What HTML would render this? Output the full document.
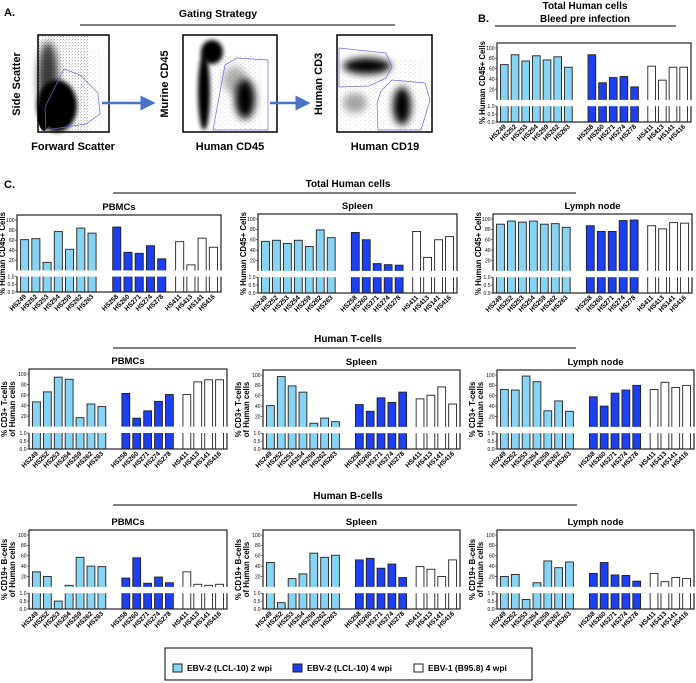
<!DOCTYPE html>
<html><head><meta charset="utf-8">
<style>
html,body{margin:0;padding:0;background:#fff;}
svg{display:block;font-family:"Liberation Sans",Arial,sans-serif;}
</style></head>
<body>
<svg id="fig" width="696" height="683" viewBox="0 0 696 683" xmlns="http://www.w3.org/2000/svg">
<defs>
<filter id="blur2" x="-50%" y="-50%" width="200%" height="200%"><feGaussianBlur stdDeviation="4"/></filter>
<filter id="blur1" x="-50%" y="-50%" width="200%" height="200%"><feGaussianBlur stdDeviation="2"/></filter>
<pattern id="dots" width="3" height="3" patternUnits="userSpaceOnUse"><rect width="0.8" height="0.8" fill="#000"/><rect x="2" y="1.5" width="0.6" height="0.6" fill="#000"/></pattern>
<pattern id="dots2" width="5" height="4" patternUnits="userSpaceOnUse"><rect width="0.6" height="0.6" fill="#000"/><rect x="3" y="2" width="0.5" height="0.5" fill="#000"/></pattern>
<marker id="arr" markerWidth="6" markerHeight="6" refX="3" refY="3" orient="auto"><path d="M0,0 L6,3 L0,6 z" fill="#4a74c9"/></marker>
</defs>

<!-- Panel A -->
<g>
<text x="4" y="16" font-size="11" font-weight="bold">A.</text>
<text x="218" y="17" font-size="10.5" font-weight="bold" text-anchor="middle">Gating Strategy</text>
<line x1="80" y1="25" x2="395" y2="25" stroke="#000" stroke-width="1"/>

<g>
<rect x="38" y="35" width="71" height="97" fill="#fff"/>
<rect x="38" y="35" width="50" height="97" fill="url(#dots)" opacity="0.45"/>
<rect x="80" y="50" width="28" height="80" fill="url(#dots2)" opacity="0.35"/>
<ellipse cx="57" cy="106" rx="20" ry="26" fill="#000" filter="url(#blur1)"/>
<ellipse cx="48" cy="78" rx="10" ry="36" fill="#000" opacity="0.75" filter="url(#blur2)"/>
<ellipse cx="44" cy="115" rx="6" ry="16" fill="#000"/>
<polygon points="45,107 64,69 80,75 98,93 100,114 86,124 46,130" fill="none" stroke="#6b6bd6" stroke-width="0.7"/>
<rect x="38" y="35" width="71" height="97" fill="none" stroke="#000" stroke-width="1.5"/>
<text x="20" y="84" font-size="11" font-weight="bold" transform="rotate(-90 20 84)" text-anchor="middle">Side Scatter</text>
<text x="73" y="150" font-size="11" font-weight="bold" text-anchor="middle">Forward Scatter</text>
</g>
<line x1="102" y1="103" x2="148" y2="103" stroke="#4a74c9" stroke-width="2.5" marker-end="url(#arr)"/>

<g>
<rect x="183" y="35" width="94" height="97" fill="#fff"/>
<rect x="213" y="55" width="50" height="75" fill="url(#dots2)" opacity="0.4"/>
<ellipse cx="204" cy="92" rx="6" ry="38" fill="#000" filter="url(#blur1)"/>
<ellipse cx="212" cy="52" rx="11" ry="12" fill="#000" filter="url(#blur1)"/>
<ellipse cx="245" cy="99" rx="10" ry="20" fill="#000" filter="url(#blur2)"/>
<ellipse cx="235" cy="80" rx="12" ry="14" fill="#000" opacity="0.3" filter="url(#blur2)"/>
<polygon points="213,130 225,65 237,58 268,60 268,130" fill="none" stroke="#6b6bd6" stroke-width="0.7"/>
<rect x="183" y="35" width="94" height="97" fill="none" stroke="#000" stroke-width="1.5"/>
<text x="168" y="84" font-size="11" font-weight="bold" transform="rotate(-90 168 84)" text-anchor="middle">Murine CD45</text>
<text x="230" y="150" font-size="11" font-weight="bold" text-anchor="middle">Human CD45</text>
</g>
<line x1="270" y1="103" x2="303" y2="103" stroke="#4a74c9" stroke-width="2.5" marker-end="url(#arr)"/>

<g>
<rect x="337" y="35" width="95" height="97" fill="#fff"/>
<rect x="337" y="60" width="90" height="70" fill="url(#dots2)" opacity="0.35"/>
<ellipse cx="367" cy="66" rx="24" ry="8" fill="#000" filter="url(#blur2)"/>
<ellipse cx="402" cy="106" rx="9" ry="19" fill="#000" filter="url(#blur2)"/>
<ellipse cx="355" cy="103" rx="12" ry="10" fill="#000" opacity="0.35" filter="url(#blur2)"/>
<polygon points="339,48 386,53 392,67 386,78 369,86 339,87" fill="none" stroke="#6b6bd6" stroke-width="0.7"/>
<polygon points="381,91 392,80 425,83 430,100 421,130 378,130 377,103" fill="none" stroke="#6b6bd6" stroke-width="0.7"/>
<rect x="337" y="35" width="95" height="97" fill="none" stroke="#000" stroke-width="1.5"/>
<text x="322" y="84" font-size="11" font-weight="bold" transform="rotate(-90 322 84)" text-anchor="middle">Human CD3</text>
<text x="385" y="150" font-size="11" font-weight="bold" text-anchor="middle">Human CD19</text>
</g>
</g>

<!-- Panel B headings -->
<text x="478" y="22" font-size="11" font-weight="bold">B.</text>
<text x="585" y="9" font-size="10" font-weight="bold" text-anchor="middle">Total Human cells</text>
<text x="585" y="22" font-size="10" font-weight="bold" text-anchor="middle">Bleed pre infection</text>
<line x1="495" y1="26" x2="676" y2="26" stroke="#000"/>

<!-- Panel C headings -->
<text x="4" y="188" font-size="11" font-weight="bold">C.</text>
<text x="348" y="187" font-size="10" font-weight="bold" text-anchor="middle">Total Human cells</text>
<line x1="113" y1="193" x2="576" y2="193" stroke="#000"/>
<text x="348" y="342" font-size="10" font-weight="bold" text-anchor="middle">Human T-cells</text>
<line x1="113" y1="348" x2="576" y2="348" stroke="#000"/>
<text x="348" y="499" font-size="10" font-weight="bold" text-anchor="middle">Human B-cells</text>
<line x1="113" y1="505" x2="577" y2="505" stroke="#000"/>

<g id="charts"></g>

<!-- Legend -->
<g>
<rect x="165" y="648" width="367" height="32" fill="#fff" stroke="#000" stroke-width="1"/>
<g>
<rect x="173" y="664" width="9" height="8" fill="#86d3f4" stroke="#222" stroke-width="1"/>
<text x="187" y="671" font-size="8.5" font-weight="bold">EBV-2 (LCL-10) 2 wpi</text></g>
<g>
<rect x="293" y="664" width="9" height="8" fill="#1c3ff0" stroke="#222" stroke-width="1"/>
<text x="307" y="671" font-size="8.5" font-weight="bold">EBV-2 (LCL-10) 4 wpi</text></g>
<g>
<rect x="414" y="664" width="9" height="8" fill="#fff" stroke="#222" stroke-width="1"/>
<text x="428" y="671" font-size="8.5" font-weight="bold">EBV-1 (B95.8) 4 wpi</text></g>
</g>
</svg>

<script>
// ---- data ----
const catLight = ["HS249","HS252","HS253","HS254","HS259","HS262","HS263"];
const catBlue  = ["HS258","HS260","HS271","HS274","HS278"];
const catWhite = ["HS411","HS413","HS141","HS416"];
const topTicks = [100,80,60,40,20];
const bottomTicks = [1.0,0.5,0.0];

const bleedLight = [68,87,75,85,77,83,63];
const bleedBlue  = [87,33,43,45,25];
const bleedWhite = [65,38,63,63];

const pbmcTotalLight = [61,63,16,77,42,84,74];
const pbmcTotalBlue  = [86,36,34,49,23];
const pbmcTotalWhite = [57,11,64,46];
const spleenTotalLight = [57,59,53,59,47,79,64];
const spleenTotalBlue  = [74,60,14,12,11];
const spleenTotalWhite = [76,26,60,66];
const lymphTotalLight = [90,96,94,96,90,91,84];
const lymphTotalBlue  = [87,76,76,97,98];
const lymphTotalWhite = [87,81,93,92];

const pbmcTLight = [47,66,94,90,17,43,38];
const pbmcTBlue  = [63,16,30,48,61];
const pbmcTWhite = [61,85,89,89];
const spleenTLight = [41,97,79,67,7,17,10];
const spleenTBlue  = [43,30,56,47,67];
const spleenTWhite = [54,61,77,44];
const lymphTLight = [72,71,98,87,31,50,30];
const lymphTBlue  = [58,40,65,71,80];
const lymphTWhite = [72,86,76,80];

const pbmcBLight = [29,20,0.5,3,57,40,39];
const pbmcBBlue  = [17,56,7,19,8];
const pbmcBWhite = [29,5,3,5];
const spleenBLight = [47,0.4,16,25,65,57,61];
const spleenBBlue  = [52,55,36,44,18];
const spleenBWhite = [39,34,20,52];
const lymphBLight = [20,24,0.6,8,50,37,48];
const lymphBBlue  = [26,47,23,22,11];
const lymphBWhite = [26,10,18,16];

// ---- layout ----
const charts = [
 {name:"bleed-chart", x0:497,x1:691,top:43,bot:122,title:null,ylab:["% Human CD45+ Cells"],d:[bleedLight,bleedBlue,bleedWhite]},
 {name:"pbmc-total-chart", x0:17,x1:221,top:215,bot:292,title:"PBMCs",ylab:["% Human CD45+ Cells"],d:[pbmcTotalLight,pbmcTotalBlue,pbmcTotalWhite]},
 {name:"spleen-total-chart", x0:258,x1:457,top:214,bot:293,title:"Spleen",ylab:["% Human CD45+ Cells"],d:[spleenTotalLight,spleenTotalBlue,spleenTotalWhite]},
 {name:"lymph-total-chart", x0:493,x1:692,top:214,bot:293,title:"Lymph node",ylab:["% Human CD45+ Cells"],d:[lymphTotalLight,lymphTotalBlue,lymphTotalWhite]},
 {name:"pbmc-t-chart", x0:29,x1:227,top:369,bot:449,title:"PBMCs",ylab:["% CD3+ T-cells","of Human cells"],d:[pbmcTLight,pbmcTBlue,pbmcTWhite]},
 {name:"spleen-t-chart", x0:263,x1:460,top:370,bot:449,title:"Spleen",ylab:["% CD3+ T-cells","of Human cells"],d:[spleenTLight,spleenTBlue,spleenTWhite]},
 {name:"lymph-t-chart", x0:497,x1:694,top:370,bot:449,title:"Lymph node",ylab:["% CD3+ T-cells","of Human cells"],d:[lymphTLight,lymphTBlue,lymphTWhite]},
 {name:"pbmc-b-chart", x0:29,x1:227,top:530,bot:609,title:"PBMCs",ylab:["% CD19+ B-cells","of Human cells"],d:[pbmcBLight,pbmcBBlue,pbmcBWhite]},
 {name:"spleen-b-chart", x0:263,x1:460,top:530,bot:609,title:"Spleen",ylab:["% CD19+ B-cells","of Human cells"],d:[spleenBLight,spleenBBlue,spleenBWhite]},
 {name:"lymph-b-chart", x0:497,x1:694,top:530,bot:609,title:"Lymph node",ylab:["% CD19+ B-cells","of Human cells"],d:[lymphBLight,lymphBBlue,lymphBWhite]}
];
const fills = ["#86d3f4","#1c3ff0","#ffffff"];
const groupStart = [0, 8.2, 13.8];
const cats = [catLight, catBlue, catWhite];

const NS = "http://www.w3.org/2000/svg";
const root = document.getElementById("charts");
function mk(tag, attrs, parent){
  const e = document.createElementNS(NS, tag);
  for (const k in attrs) e.setAttribute(k, attrs[k]);
  parent.appendChild(e);
  return e;
}

charts.forEach(c => {
  const g = mk("g", {}, root);
  
  
  const H = c.bot - c.top;
  const y100 = c.top + 5, y0top = c.top + H*0.72, bandB = c.top + H*0.80;
  const yTop = v => y0top - (v/100)*(y0top - y100);
  const yBot = v => c.bot - Math.min(v,1)*(c.bot - bandB);
  const pitch = (c.x1 - c.x0 - 4) / 17.8;
  const bw = pitch*0.72;
  const xOf = (gi, i) => c.x0 + 2 + (groupStart[gi] + i)*pitch + (pitch-bw)/2;

  c.d.forEach((arr, gi) => {
    arr.forEach((v, i) => {
      const x = xOf(gi, i);
      const yt = v >= 1 ? yTop(v) : yBot(v);
      const r = mk("rect", {x:x, y:yt, width:bw, height:c.bot-yt, fill:fills[gi], stroke:"#222", "stroke-width":"0.9"}, g);
      
      
      const t = mk("text", {x:x+bw/2+2, y:c.bot+5, "font-size":"6.6", "font-weight":"bold", "text-anchor":"end",
        transform:"rotate(-45 "+(x+bw/2+2)+" "+(c.bot+5)+")"}, g);
      t.textContent = cats[gi][i];
      
      
    });
  });
  mk("rect", {x:c.x0, y:c.top, width:c.x1-c.x0, height:H, fill:"none", stroke:"#222", "stroke-width":"1.2"}, g);
  mk("rect", {x:c.x0-1.5, y:y0top, width:c.x1-c.x0+3, height:bandB-y0top, fill:"#fff"}, g);
  topTicks.forEach(v => {
    const y = yTop(v);
    mk("line", {x1:c.x0-2, y1:y, x2:c.x0, y2:y, stroke:"#222", "stroke-width":"0.6"}, g);
    const t = mk("text", {x:c.x0-2.5, y:y+1.8, "font-size":"5", "text-anchor":"end"}, g);
    t.textContent = v;
  });
  bottomTicks.forEach(v => {
    const y = yBot(v);
    mk("line", {x1:c.x0-2, y1:y, x2:c.x0, y2:y, stroke:"#222", "stroke-width":"0.6"}, g);
    const t = mk("text", {x:c.x0-2.5, y:y+1.8, "font-size":"5", "text-anchor":"end"}, g);
    t.textContent = v.toFixed(1);
  });
  const cy = c.top + H/2;
  c.ylab.forEach((s, k) => {
    const n = c.ylab.length;
    const lx = c.x0 - (n === 1 ? 12 : (k === 0 ? 22 : 14));
    const t = mk("text", {x:lx, y:cy, "font-size":"7.8", "font-weight":"bold", "text-anchor":"middle",
      transform:"rotate(-90 "+lx+" "+cy+")"}, g);
    t.textContent = s;
    
    
  });
  if (c.title) {
    const t = mk("text", {x:(c.x0+c.x1)/2, y:c.top-5, "font-size":"9.5", "font-weight":"bold", "text-anchor":"middle"}, g);
    t.textContent = c.title;
    
    
  }
});
</script>
</body></html>
